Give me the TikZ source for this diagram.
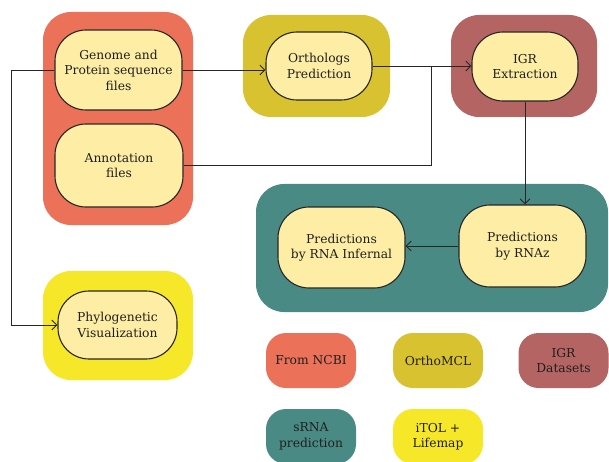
\documentclass[tikz,border=0pt]{standalone}
\usepackage{fontspec}
\setmainfont{DejaVu Serif}
\usepackage{tikz}
\usetikzlibrary{
  arrows.meta,
  positioning,
}
\definecolor{ncbired}{HTML}{EB7158}
\definecolor{orthoolive}{HTML}{D8C22F}
\definecolor{igrmaroon}{HTML}{B46462}
\definecolor{srnateal}{HTML}{4A8A85}
\definecolor{itolyellow}{HTML}{F6E829}
\definecolor{paleyellow}{HTML}{FEEDA4}

\begin{document}
\begin{tikzpicture}[
  x=1pt, y=-1pt,
  font=\fontsize{12.3}{15.5}\selectfont,
  every node/.style={align=center, text=black!88},
  outerbox/.style={fill=#1, rounded corners=28pt, inner sep=0pt},
  stepbox/.style={draw=black!85, line width=1.1pt, fill=paleyellow,
    rounded corners=31pt, inner sep=0pt},
  keybox/.style={fill=#1, rounded corners=20pt, minimum width=90pt,
    minimum height=55pt, inner sep=0pt},
  link/.style={draw=black!85, line width=0.9pt},
  tip/.style={-{Straight Barb[length=5pt,width=10pt]}},
]
\useasboundingbox (0,0) rectangle (609,462);

% coloured groups
\node[outerbox=ncbired, minimum width=150pt, minimum height=213pt] (srcgroup) at (118,118.5) {};
\node[outerbox=orthoolive, minimum width=147pt, minimum height=102pt] (orthogroup) at (316.5,66) {};
\node[outerbox=igrmaroon, minimum width=146pt, minimum height=102pt] (igrgroup) at (524,66) {};
\node[outerbox=srnateal, minimum width=352pt, minimum height=128pt] (srnagroup) at (432,248) {};
\node[outerbox=itolyellow, minimum width=150pt, minimum height=109pt] (phylogroup) at (118,325.5) {};

% steps
\node[stepbox, minimum width=127pt, minimum height=80pt] (genome) at (118.5,70)
  {Genome and\\Protein sequence\\files};
\node[stepbox, minimum width=128pt, minimum height=83pt] (annot) at (119,165.5)
  {Annotation\\files};
\node[stepbox, minimum width=106pt, minimum height=68pt] (ortho) at (319,66)
  {Orthologs\\Prediction};
\node[stepbox, minimum width=106pt, minimum height=69pt] (igr) at (525,66.5)
  {IGR\\Extraction};
\node[stepbox, minimum width=127pt, minimum height=82pt] (rnaz) at (522.5,246)
  {Predictions\\by RNAz};
\node[stepbox, minimum width=127pt, minimum height=81pt] (infernal) at (341.5,247.5)
  {Predictions\\by RNA Infernal};
\node[stepbox, minimum width=119pt, minimum height=68pt] (phylo) at (117.5,325)
  {Phylogenetic\\Visualization};

% legend
\node[keybox=ncbired] (keyncbi) at (311,360.5) {From NCBI};
\node[keybox=orthoolive] (keymcl) at (438,360.5) {OrthoMCL};
\node[keybox=igrmaroon] (keyigr) at (563.5,360.5) {IGR\\Datasets};
\node[keybox=srnateal] (keysrna) at (311,436.5) {sRNA\\prediction};
\node[keybox=itolyellow] (keyitol) at (438,436.5) {iTOL +\\Lifemap};

% connectors
\coordinate (leftbus) at (11,70);
\coordinate (joint) at (431,66);
\draw[link, tip] (genome.east) -- (genome.east -| ortho.west);
\draw[link, tip] (ortho.east) -- (ortho.east -| igr.west);
\draw[link] (annot.east) -| (joint);
\draw[link, tip] (genome.west) -- (leftbus) |- (phylo.west);
\draw[link, tip] (igr.south) -- (igr.south |- rnaz.north);
\draw[link, tip] (rnaz.west) -- (rnaz.west -| infernal.east);

\end{tikzpicture}
\end{document}
